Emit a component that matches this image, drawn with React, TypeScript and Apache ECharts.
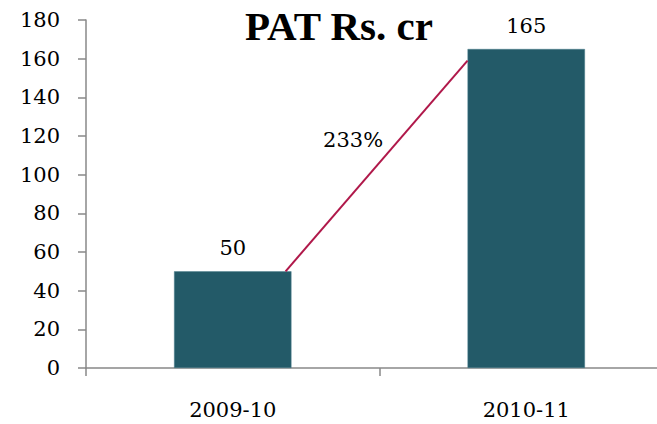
import React, { useEffect, useRef } from "react";
import * as echarts from "echarts";

const categories = ["2009-10", "2010-11"];
const patValues = [50, 165];
const yTicks = { min: 0, max: 180, interval: 20 };
const growthLine = [
  [0.18, 50],
  [0.8, 159],
];
const growthLabel = "233%";
const growthLabelPos = [0.41, 118];
const titleText = "PAT Rs. cr";

const SERIF = "DejaVu Serif";

export default function App() {
  const ref = useRef<HTMLDivElement>(null);
  useEffect(() => {
    const chart = echarts.init(ref.current!, null, { renderer: "svg" });
    chart.setOption({
      animation: false,
      backgroundColor: "#ffffff",
      title: {
        text: titleText,
        left: 334,
        top: 0,
        textAlign: "center",
        textStyle: {
          fontFamily: "Liberation Serif",
          fontWeight: "bold",
          fontSize: 41,
          color: "#000",
        },
      },
      grid: { left: 86, right: 0, top: 20, bottom: 56 },
      xAxis: [
        {
          type: "category",
          data: categories,
          axisLine: { lineStyle: { color: "#888", width: 1.5 } },
          axisTick: { show: true, length: 8, lineStyle: { color: "#888", width: 1.5 } },
          axisLabel: { fontFamily: SERIF, fontSize: 21, color: "#000", margin: 31 },
        },
        {
          type: "value",
          min: -0.5,
          max: 1.5,
          show: false,
        },
      ],
      yAxis: {
        type: "value",
        min: yTicks.min,
        max: yTicks.max,
        interval: yTicks.interval,
        splitLine: { show: false },
        axisLine: { show: true, onZero: false, lineStyle: { color: "#888", width: 1.5 } },
        axisTick: { show: true, length: 8, lineStyle: { color: "#888", width: 1.5 } },
        axisLabel: { fontFamily: SERIF, fontSize: 21, color: "#000", margin: 26 },
      },
      series: [
        {
          type: "bar",
          data: patValues,
          barWidth: "40%",
          itemStyle: { color: "#235A68", borderColor: "#4d7f8c", borderWidth: 0.5 },
          label: {
            show: true,
            position: "top",
            distance: 13,
            fontFamily: SERIF,
            fontSize: 21,
            color: "#000",
          },
        },
        {
          type: "line",
          xAxisIndex: 1,
          data: growthLine,
          symbol: "none",
          lineStyle: { color: "#B0184A", width: 2 },
          markPoint: {
            symbol: "circle",
            symbolSize: 0,
            data: [{ coord: growthLabelPos, value: growthLabel }],
            label: {
              show: true,
              position: "inside",
              formatter: growthLabel,
              fontFamily: SERIF,
              fontSize: 21,
              color: "#000",
            },
          },
        },
      ],
    });
    return () => chart.dispose();
  }, []);
  return (
    <div
      style={{
        position: "fixed",
        left: 0,
        top: 0,
        width: 657,
        height: 424,
        overflow: "hidden",
      }}
    >
      <div ref={ref} style={{ width: 673, height: 424 }} />
    </div>
  );
}
